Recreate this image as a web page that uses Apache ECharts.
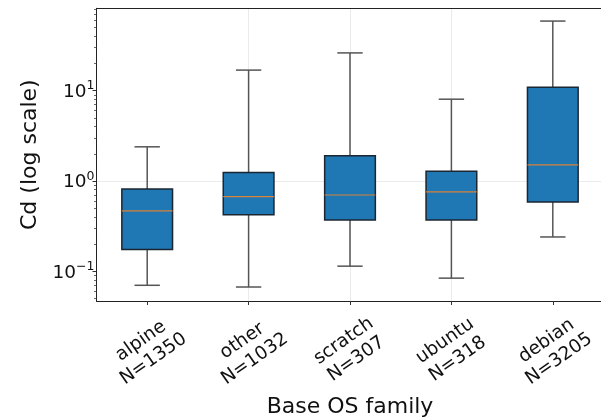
<!DOCTYPE html>
<html>
<head>
<meta charset="utf-8">
<script src="https://cdn.jsdelivr.net/npm/echarts@6/dist/echarts.min.js"></script>
<style>
  html, body { margin: 0; padding: 0; background: #fff; overflow: hidden; }
  #chart { width: 601px; height: 417px; }
</style>
</head>
<body>
<div id="chart"></div>
<script>
// 各发行版的箱线图数据（原始值，按对数坐标绘制）
const categories = ['alpine', 'other', 'scratch', 'ubuntu', 'debian'];
const counts = [1350, 1032, 307, 318, 3205];
const whiskerLow = [0.070, 0.067, 0.114, 0.084, 0.240];
const q1 = [0.174, 0.424, 0.371, 0.371, 0.586];
const median = [0.466, 0.671, 0.700, 0.756, 1.51];
const q3 = [0.816, 1.245, 1.90, 1.28, 10.9];
const whiskerHigh = [2.39, 16.9, 26.2, 8.05, 59.0];

const yMin = 0.0469;
const yMax = 81.7;
const majorExp = [-1, 0, 1];

const lg = v => Math.log10(v);

// 次刻度：每个数量级的 2..9
const minorTicks = [];
for (let e = -2; e <= 1; e++) {
  for (let k = 2; k <= 9; k++) {
    const v = k * Math.pow(10, e);
    if (v >= yMin && v <= yMax) minorTicks.push(lg(v));
  }
}

const boxData = categories.map((c, i) => [
  i + 1, lg(whiskerLow[i]), lg(q1[i]), lg(median[i]), lg(q3[i]), lg(whiskerHigh[i])
]);

const font = 'DejaVu Sans';
const plotWidth = 507;
const chart = echarts.init(document.getElementById('chart'));

chart.setOption({
  animation: false,
  grid: {
    left: 96.5, top: 8.3, width: plotWidth, height: 292.7,
    outerBoundsMode: 'none',
    containLabel: false,
    show: false
  },
  xAxis: [
    {
      type: 'value',
      min: 0.5,
      max: 5.5,
      name: 'Base OS family',
      nameLocation: 'middle',
      nameGap: 91,
      nameTextStyle: { fontFamily: font, fontSize: 22, color: '#111' },
      axisLine: { show: true, onZero: false, lineStyle: { color: '#222', width: 1 } },
      axisTick: {
        show: true, length: 4, customValues: [1, 2, 3, 4, 5],
        lineStyle: { color: '#333', width: 1 }
      },
      splitLine: {
        show: true, showMinLine: false, showMaxLine: false,
        lineStyle: { color: '#ebebeb', width: 1 }
      },
      axisLabel: {
        customValues: [1, 2, 3, 4, 5],
        formatter: v => categories[v - 1] + '\nN=' + counts[v - 1],
        rotate: 35,
        align: 'center',
        verticalAlign: 'middle',
        margin: 49,
        fontFamily: font,
        fontSize: 18.5,
        lineHeight: 22,
        color: '#111'
      }
    },
    {
      // 顶部边框
      type: 'value',
      min: 0.5,
      max: 5.5,
      position: 'top',
      axisLine: { show: true, onZero: false, lineStyle: { color: '#222', width: 1 } },
      axisTick: { show: false },
      splitLine: { show: false },
      axisLabel: { show: false }
    }
  ],
  yAxis: [
    {
      type: 'value',
      min: lg(yMin),
      max: lg(yMax),
      name: 'Cd (log scale)',
      nameLocation: 'middle',
      nameGap: 33,
      nameTextStyle: { fontFamily: font, fontSize: 22, color: '#111' },
      axisLine: { show: true, onZero: false, lineStyle: { color: '#222', width: 1 } },
      axisTick: {
        show: true, length: 4, customValues: majorExp,
        lineStyle: { color: '#333', width: 1 }
      },
      splitLine: {
        show: true, showMinLine: false, showMaxLine: false,
        lineStyle: { color: '#ebebeb', width: 1 }
      },
      axisLabel: {
        customValues: majorExp,
        margin: 2,
        formatter: v => '{b|10}{s|' + String(Math.round(v)).replace('-', '\u2212') + '}',
        rich: {
          b: { fontFamily: font, fontSize: 18.5, color: '#111', verticalAlign: 'bottom' },
          s: { fontFamily: font, fontSize: 12.5, color: '#111', verticalAlign: 'bottom', padding: [0, 0, 9, 0] }
        }
      }
    },
    {
      // 次刻度：第二根 y 轴会被放到右侧，用负偏移移回左侧
      type: 'value',
      min: lg(yMin),
      max: lg(yMax),
      position: 'right',
      offset: -plotWidth,
      axisLine: { show: false, onZero: false },
      axisTick: {
        show: true, inside: true, length: 2.5, customValues: minorTicks,
        lineStyle: { color: '#444', width: 0.8 }
      },
      splitLine: { show: false },
      axisLabel: { show: false }
    }
  ],
  series: [
    {
      type: 'custom',
      data: boxData,
      encode: { x: 0, y: [1, 2, 3, 4, 5] },
      clip: false,
      renderItem: (params, api) => {
        const x = api.value(0);
        const band = api.size([1, 0])[0];
        const halfBox = band * 0.25;
        const halfCap = band * 0.125;
        const pLow = api.coord([x, api.value(1)]);
        const pQ1 = api.coord([x, api.value(2)]);
        const pMed = api.coord([x, api.value(3)]);
        const pQ3 = api.coord([x, api.value(4)]);
        const pHigh = api.coord([x, api.value(5)]);
        const cx = pLow[0];
        const whisker = { stroke: '#555', lineWidth: 1.5 };
        return {
          type: 'group',
          children: [
            { type: 'line', shape: { x1: cx, y1: pQ1[1], x2: cx, y2: pLow[1] }, style: whisker },
            { type: 'line', shape: { x1: cx, y1: pQ3[1], x2: cx, y2: pHigh[1] }, style: whisker },
            { type: 'line', shape: { x1: cx - halfCap, y1: pLow[1], x2: cx + halfCap, y2: pLow[1] }, style: whisker },
            { type: 'line', shape: { x1: cx - halfCap, y1: pHigh[1], x2: cx + halfCap, y2: pHigh[1] }, style: whisker },
            {
              type: 'rect',
              shape: { x: cx - halfBox, y: pQ3[1], width: halfBox * 2, height: pQ1[1] - pQ3[1] },
              style: { fill: '#1f77b4', stroke: '#1b2633', lineWidth: 1.5 }
            },
            {
              type: 'line',
              shape: { x1: cx - halfBox, y1: pMed[1], x2: cx + halfBox, y2: pMed[1] },
              style: { stroke: '#d9823a', lineWidth: 1.2 }
            }
          ]
        };
      }
    }
  ]
});
</script>
</body>
</html>
